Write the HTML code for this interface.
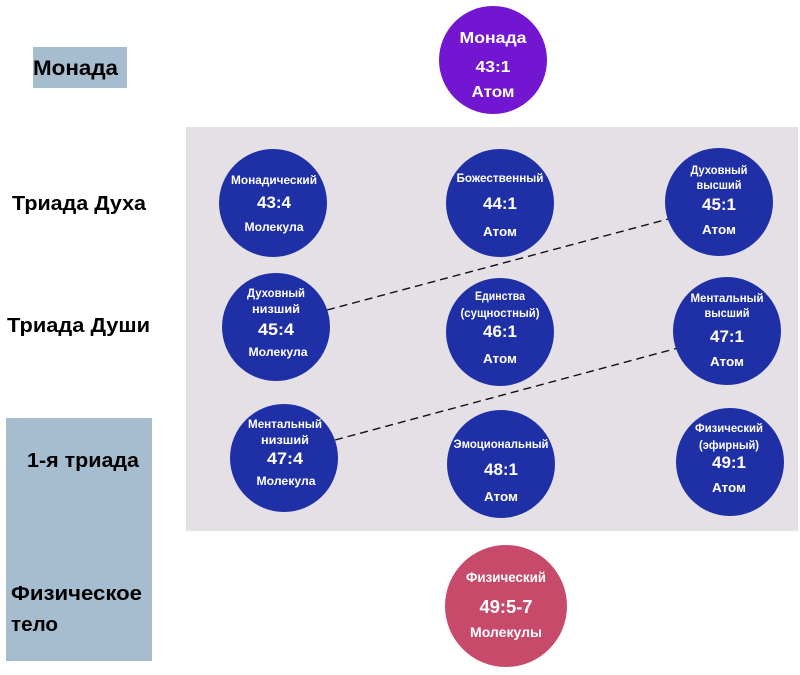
<!DOCTYPE html>
<html>
<head>
<meta charset="utf-8">
<style>
  html,body{margin:0;padding:0;background:#ffffff;}
  svg{display:block;}
  .w{fill:#ffffff;font-family:"Liberation Sans","DejaVu Sans",sans-serif;font-weight:bold;text-anchor:middle;}
  .b{fill:#000000;font-family:"Liberation Sans","DejaVu Sans",sans-serif;font-weight:bold;}
</style>
</head>
<body>
<svg width="800" height="675" viewBox="0 0 800 675" xmlns="http://www.w3.org/2000/svg">
  <rect x="0" y="0" width="800" height="675" fill="#ffffff"/>

  <!-- left label boxes -->
  <rect x="33" y="47" width="94" height="41" fill="#a6bdd0"/>
  <rect x="6" y="418" width="146" height="243" fill="#a6bdd0"/>

  <!-- panel -->
  <rect x="186" y="127" width="612" height="404" fill="#e4e0e6"/>

  <!-- left labels -->
  <text class="b" x="33" y="75" font-size="21" textLength="85" lengthAdjust="spacingAndGlyphs">Монада</text>
  <text class="b" x="12" y="210" font-size="20" textLength="134" lengthAdjust="spacingAndGlyphs">Триада Духа</text>
  <text class="b" x="7" y="332" font-size="20" textLength="143" lengthAdjust="spacingAndGlyphs">Триада Души</text>
  <text class="b" x="27" y="467" font-size="20" textLength="112" lengthAdjust="spacingAndGlyphs">1-я триада</text>
  <text class="b" x="11" y="600" font-size="20" textLength="131" lengthAdjust="spacingAndGlyphs">Физическое</text>
  <text class="b" x="11" y="631" font-size="20" textLength="47" lengthAdjust="spacingAndGlyphs">тело</text>

  <!-- dashed connectors -->
  <line x1="327" y1="310" x2="672" y2="218" stroke="#111" stroke-width="1.4" stroke-dasharray="8 5"/>
  <line x1="335" y1="440" x2="678" y2="348" stroke="#111" stroke-width="1.4" stroke-dasharray="8 5"/>

  <!-- purple monad -->
  <circle cx="493" cy="60" r="54" fill="#7216d1"/>
  <text class="w" x="493" y="43" font-size="16" textLength="67" lengthAdjust="spacingAndGlyphs">Монада</text>
  <text class="w" x="493" y="72" font-size="16" textLength="35" lengthAdjust="spacingAndGlyphs">43:1</text>
  <text class="w" x="493" y="97" font-size="16" textLength="43" lengthAdjust="spacingAndGlyphs">Атом</text>

  <!-- row 1 -->
  <circle cx="273" cy="203" r="54" fill="#1f30a7"/>
  <text class="w" x="274" y="184" font-size="12" textLength="86" lengthAdjust="spacingAndGlyphs">Монадический</text>
  <text class="w" x="274" y="208" font-size="17" textLength="34" lengthAdjust="spacingAndGlyphs">43:4</text>
  <text class="w" x="274" y="231" font-size="12" textLength="59" lengthAdjust="spacingAndGlyphs">Молекула</text>

  <circle cx="500" cy="203" r="54" fill="#1f30a7"/>
  <text class="w" x="500" y="182" font-size="12" textLength="87" lengthAdjust="spacingAndGlyphs">Божественный</text>
  <text class="w" x="500" y="209" font-size="17" textLength="34" lengthAdjust="spacingAndGlyphs">44:1</text>
  <text class="w" x="500" y="236" font-size="13" textLength="34" lengthAdjust="spacingAndGlyphs">Атом</text>

  <circle cx="719" cy="202" r="54" fill="#1f30a7"/>
  <text class="w" x="719" y="174" font-size="12" textLength="57" lengthAdjust="spacingAndGlyphs">Духовный</text>
  <text class="w" x="719" y="189" font-size="12" textLength="45" lengthAdjust="spacingAndGlyphs">высший</text>
  <text class="w" x="719" y="210" font-size="17" textLength="34" lengthAdjust="spacingAndGlyphs">45:1</text>
  <text class="w" x="719" y="234" font-size="13" textLength="34" lengthAdjust="spacingAndGlyphs">Атом</text>

  <!-- row 2 -->
  <circle cx="276" cy="327" r="54" fill="#1f30a7"/>
  <text class="w" x="276" y="297" font-size="12" textLength="58" lengthAdjust="spacingAndGlyphs">Духовный</text>
  <text class="w" x="276" y="313" font-size="12" textLength="48" lengthAdjust="spacingAndGlyphs">низший</text>
  <text class="w" x="276" y="335" font-size="17" textLength="36" lengthAdjust="spacingAndGlyphs">45:4</text>
  <text class="w" x="278" y="356" font-size="12" textLength="59" lengthAdjust="spacingAndGlyphs">Молекула</text>

  <circle cx="500" cy="332" r="54" fill="#1f30a7"/>
  <text class="w" x="500" y="300" font-size="12" textLength="50" lengthAdjust="spacingAndGlyphs">Единства</text>
  <text class="w" x="500" y="317" font-size="12" textLength="79" lengthAdjust="spacingAndGlyphs">(сущностный)</text>
  <text class="w" x="500" y="337" font-size="17" textLength="34" lengthAdjust="spacingAndGlyphs">46:1</text>
  <text class="w" x="500" y="363" font-size="13" textLength="34" lengthAdjust="spacingAndGlyphs">Атом</text>

  <circle cx="727" cy="331" r="54" fill="#1f30a7"/>
  <text class="w" x="727" y="302" font-size="12" textLength="73" lengthAdjust="spacingAndGlyphs">Ментальный</text>
  <text class="w" x="727" y="317" font-size="12" textLength="45" lengthAdjust="spacingAndGlyphs">высший</text>
  <text class="w" x="727" y="342" font-size="17" textLength="34" lengthAdjust="spacingAndGlyphs">47:1</text>
  <text class="w" x="727" y="366" font-size="13" textLength="34" lengthAdjust="spacingAndGlyphs">Атом</text>

  <!-- row 3 -->
  <circle cx="284" cy="458" r="54" fill="#1f30a7"/>
  <text class="w" x="285" y="428" font-size="12" textLength="74" lengthAdjust="spacingAndGlyphs">Ментальный</text>
  <text class="w" x="285" y="444" font-size="12" textLength="48" lengthAdjust="spacingAndGlyphs">низший</text>
  <text class="w" x="285" y="464" font-size="17" textLength="36" lengthAdjust="spacingAndGlyphs">47:4</text>
  <text class="w" x="286" y="485" font-size="12" textLength="59" lengthAdjust="spacingAndGlyphs">Молекула</text>

  <circle cx="501" cy="464" r="54" fill="#1f30a7"/>
  <text class="w" x="501" y="448" font-size="12" textLength="95" lengthAdjust="spacingAndGlyphs">Эмоциональный</text>
  <text class="w" x="501" y="475" font-size="17" textLength="34" lengthAdjust="spacingAndGlyphs">48:1</text>
  <text class="w" x="501" y="501" font-size="13" textLength="34" lengthAdjust="spacingAndGlyphs">Атом</text>

  <circle cx="730" cy="462" r="54" fill="#1f30a7"/>
  <text class="w" x="729" y="432" font-size="12" textLength="68" lengthAdjust="spacingAndGlyphs">Физический</text>
  <text class="w" x="729" y="449" font-size="12" textLength="60" lengthAdjust="spacingAndGlyphs">(эфирный)</text>
  <text class="w" x="729" y="468" font-size="17" textLength="34" lengthAdjust="spacingAndGlyphs">49:1</text>
  <text class="w" x="729" y="492" font-size="13" textLength="34" lengthAdjust="spacingAndGlyphs">Атом</text>

  <!-- pink physical -->
  <circle cx="506" cy="606" r="61" fill="#c84a6b"/>
  <text class="w" x="506" y="582" font-size="14" textLength="80" lengthAdjust="spacingAndGlyphs">Физический</text>
  <text class="w" x="506" y="613" font-size="18" textLength="53" lengthAdjust="spacingAndGlyphs">49:5-7</text>
  <text class="w" x="506" y="637" font-size="14" textLength="72" lengthAdjust="spacingAndGlyphs">Молекулы</text>
</svg>
</body>
</html>
